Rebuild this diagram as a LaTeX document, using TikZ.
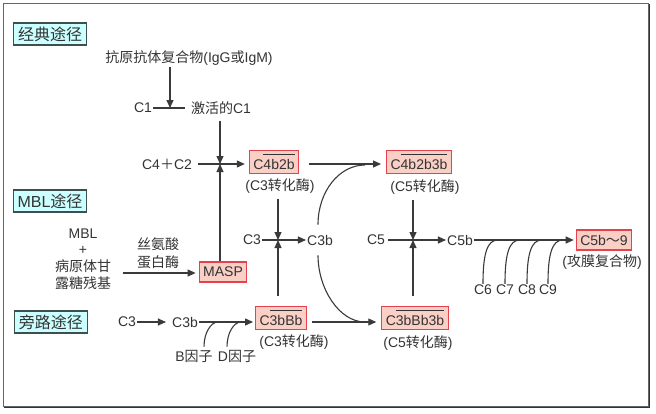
\documentclass[tikz,border=0pt]{standalone}
\usepackage{fontspec}
\setmainfont{Liberation Sans}
\newfontfamily\zh{Noto Sans CJK SC}
\usetikzlibrary{arrows.meta}
\definecolor{lncol}{HTML}{3A3A3A}
\definecolor{txcol}{HTML}{333333}
\definecolor{rfill}{HTML}{F9CFC6}
\definecolor{rdraw}{HTML}{E5424D}
\definecolor{cfill}{HTML}{CCFFFF}
\definecolor{cdraw}{HTML}{3D5050}
\newcommand\obar[1]{\vbox{\hrule height 1pt\kern 4.5pt\hbox{#1}}}
\begin{document}
\begin{tikzpicture}[x=1pt,y=-1pt,
  every node/.style={font=\fontsize{14}{16}\selectfont, text=txcol, inner sep=1pt},
  redbox/.style={draw=rdraw, fill=rfill, line width=1.1pt, inner xsep=4pt, inner ysep=3.5pt, minimum height=20pt},
  pathbox/.style={draw=cdraw, fill=cfill, line width=1.2pt, inner xsep=2pt, inner ysep=2pt,
     minimum width=73pt, minimum height=22pt, font=\fontsize{16}{18}\selectfont},
  conn/.style={draw=lncol, line width=1.1pt},
  arr/.style={conn, -{Triangle[length=8pt,width=7pt]}},
]
\useasboundingbox (0,0) rectangle (656,413);
% frame
\draw[gray!80!black, line width=1pt] (3.5,3.5) rectangle (648.5,406.5);
\draw[gray!40!black, line width=1.8pt] (4,407.5) -- (649.5,407.5) -- (649.5,4);

% pathway labels
\node[pathbox] (cl) at (50,34) {\zh 经典途径};
\node[pathbox] (mblp) at (50,201) {MBL{\zh 途径}};
\node[pathbox] (alt) at (51,322) {\zh 旁路途径};

% classical
\node (ag) at (189,58) {{\zh 抗原抗体复合物}(IgG{\zh 或}IgM)};
\node (c1) at (143,108) {C1};
\node (ac1) at (221,108) {{\zh 激活的}C1};
\coordinate (j1) at (170,108);
\coordinate (c1e) at (185,108);
\node (c4c2) at (167,164) {C4{\zh ＋}C2};
\coordinate (j2) at (220,164);
\node[redbox] (c4b2b) at (274,162) {C\obar{4b2b}};
\node (cv1) at (280,186) {(C3{\zh 转化酶})};
\node[redbox] (c4b2b3b) at (419,162) {C\obar{4b2b3b}};
\node (cv2) at (425,187) {(C5{\zh 转化酶})};

% middle row
\node (c3) at (252,240) {C3};
\node (c3b) at (320,240) {C3b};
\coordinate (j3) at (278,240);
\node (c5) at (376,240) {C5};
\node (c5b) at (460,240) {C5b};
\coordinate (j4) at (413,240);
\node[redbox] (c5b9) at (604,240) {C5b{\zh ～}9};
\node (mac) at (602,262) {({\zh 攻膜复合物})};
\node (c6) at (483,290) {C6};
\node (c7) at (505,290) {C7};
\node (c8) at (527,290) {C8};
\node (c9) at (548,290) {C9};
\coordinate (k6) at (498,240);
\coordinate (k7) at (520,240);
\coordinate (k8) at (542,240);
\coordinate (k9) at (563,240);
\coordinate (m1) at (365,165);
\coordinate (m2) at (365,322);

% MBL
\node[align=center, font=\fontsize{14}{16.7}\selectfont] (mbl) at (83,259) {MBL\\+\\{\zh 病原体甘}\\{\zh 露糖残基}};
\node[align=center, font=\fontsize{14}{18}\selectfont] (ser) at (158,253) {{\zh 丝氨酸}\\{\zh 蛋白酶}};
\node[redbox] (masp) at (223,272) {MASP};
\coordinate (ms) at (123,273);

% alternative
\node (c3a) at (127,322) {C3};
\node (c3ba) at (185,322) {C3b};
\node[redbox] (c3bbb) at (281,318) {C\obar{3bBb}};
\node (cv3) at (294,342) {(C3{\zh 转化酶})};
\node[redbox] (c3bbb3b) at (415,318) {C\obar{3bBb3b}};
\node (cv4) at (418,343) {(C5{\zh 转化酶})};
\node (bf) at (194,356) {B{\zh 因子}};
\node (df) at (237,356) {D{\zh 因子}};
\coordinate (kb) at (218,322);
\coordinate (kd) at (241,322);

% connectors - classical
\draw[conn] (c1.east) -- (c1e);
\draw[arr] (j1 |- ag.south) -- (j1);
\draw[arr, shorten <=5pt] (j2 |- ac1.south) -- (j2);
\draw[arr, shorten <=5pt, shorten >=4pt] (c4c2.east) -- (c4c2 -| c4b2b.west);
\draw[arr] (j2 |- masp.north) -- (j2);
\draw[arr, shorten <=10pt, shorten >=5pt] (c4c2 -| c4b2b.east) -- (c4c2 -| c4b2b3b.west);
\draw[conn] ([shift={(-2,-9)}]c3b.north) .. controls +(0,-33) and +(-26,0) .. (m1);
\draw[conn] ([shift={(-2,9)}]c3b.south) .. controls +(0,33) and +(-26,0) .. (m2);

% C3 / C5 cleavage
\draw[arr] (c3.east) -- (c3b.west);
\draw[arr, shorten <=4pt] (j3 |- cv1.south) -- (j3);
\draw[arr, shorten <=10pt] (j3 |- c3bbb.north) -- (j3);
\draw[arr, shorten <=2pt] (c5.east) -- (c5b.west);
\draw[arr, shorten <=4pt] (j4 |- cv2.south) -- (j4);
\draw[arr, shorten <=10pt] (j4 |- c3bbb3b.north) -- (j4);
\draw[arr, shorten >=2pt] (c5b.east) -- (c5b9.west);
\draw[conn] (c6.north) .. controls +(0,-30) and +(-11,0) .. (k6);
\draw[conn] (c7.north) .. controls +(0,-30) and +(-11,0) .. (k7);
\draw[conn] (c8.north) .. controls +(0,-30) and +(-11,0) .. (k8);
\draw[conn] (c9.north) .. controls +(0,-30) and +(-11,0) .. (k9);

% MBL
\draw[arr, shorten >=3pt] (ms) -- (ms -| masp.west);

% alternative
\draw[arr, shorten >=5pt] (c3a.east) -- (c3ba.west);
\draw[arr, shorten >=2pt] (c3ba.east) -- (c3ba -| c3bbb.west);
\draw[arr, shorten <=5pt, shorten >=5pt] (c3ba -| c3bbb.east) -- (c3ba -| c3bbb3b.west);
\draw[conn] ([shift={(10,-2)}]bf.north) .. controls +(0,-14) and +(-7,0) .. (kb);
\draw[conn] ([shift={(-10,-2)}]df.north) .. controls +(0,-14) and +(-7,0) .. (kd);
\end{tikzpicture}
\end{document}
